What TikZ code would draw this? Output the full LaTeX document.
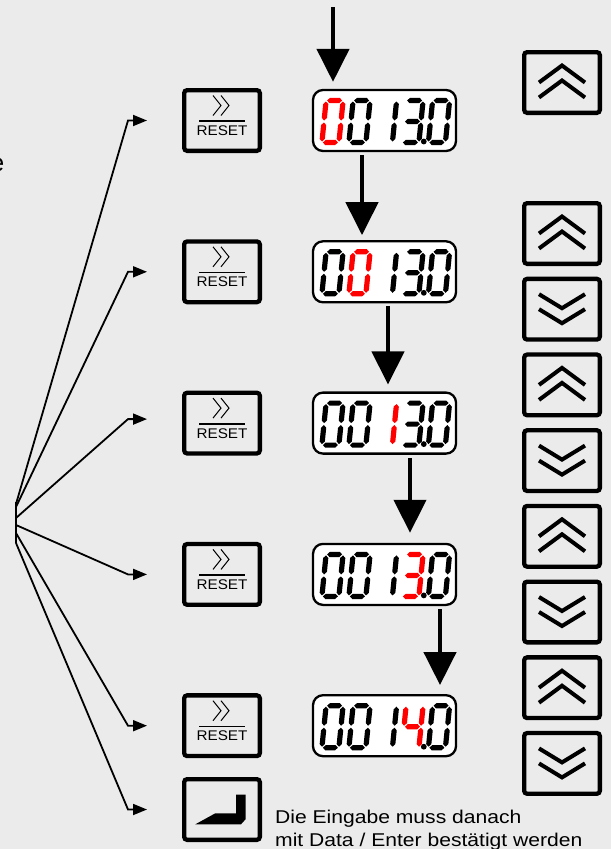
\documentclass[tikz,border=0pt]{standalone}
\usepackage{fontspec}
\setmainfont{Liberation Sans}
\usetikzlibrary{arrows.meta}
\definecolor{panel}{RGB}{235,235,235}
\definecolor{segred}{RGB}{255,0,0}

% one horizontal / vertical segment of a seven-segment digit (local units, y down)
\newcommand\segh[2]{\fill[#2] (-7.5,#1) -- (-4.9,#1-2.6) -- (4.9,#1-2.6) -- (7.5,#1) -- (4.9,#1+2.6) -- (-4.9,#1+2.6) -- cycle;}
\newcommand\segv[4]{\fill[#4] (#1,#2+1) -- (#1+2.6,#2+3.6) -- (#1+2.6,#3-3.6) -- (#1,#3-1) -- (#1-2.6,#3-3.6) -- (#1-2.6,#2+3.6) -- cycle;}
\newcommand\dsga[1]{\segh{-21}{#1}}
\newcommand\dsgb[1]{\segv{8.5}{-21}{0}{#1}}
\newcommand\dsgc[1]{\segv{8.5}{0}{21}{#1}}
\newcommand\dsgd[1]{\segh{21}{#1}}
\newcommand\dsge[1]{\segv{-8.5}{0}{21}{#1}}
\newcommand\dsgf[1]{\segv{-8.5}{-21}{0}{#1}}
\newcommand\dsgg[1]{\segh{0}{#1}}
% slanted digit: centre x, centre y, segment list, colour
\newcommand\sevenseg[4]{\begin{scope}[shift={(#1,#2)},xslant=0.1]\foreach \s in {#3}{\csname dsg\s\endcsname{#4}}\end{scope}}
% a full readout 0 0 1 X . 0 : y, colours of digits 1-4, segments of digit 4, colour of digit 5
\newcommand\readout[7]{%
  \sevenseg{332.5}{#1}{a,b,c,d,e,f}{#2}%
  \sevenseg{359.5}{#1}{a,b,c,d,e,f}{#3}%
  \sevenseg{386}{#1}{b,c}{#4}%
  \sevenseg{412.5}{#1}{#6}{#5}%
  \sevenseg{439}{#1}{a,b,c,d,e,f}{#7}%
  \fill (423.8,#1+20) circle (2.9pt);}

\begin{document}
\begin{tikzpicture}[x=1pt,y=-1pt,
  key/.style={draw, line width=4.3pt, rounded corners=3pt, minimum width=75.7pt, minimum height=60.7pt, inner sep=0pt},
  lcd/.style={draw, fill=white, line width=2.3pt, rounded corners=10pt, minimum width=143pt, minimum height=61pt, inner sep=0pt},
  flow/.style={line width=4.5pt, -{Triangle[length=33pt,width=32pt]}},
  fan/.style={line width=1.8pt, -{Triangle[length=14pt,width=11pt]}},
  hub/.style={line width=1.8pt},
  chev/.style={line width=4pt},
  label/.style={inner sep=0pt},
  resetface/.pic={
    \draw[line width=1pt] (-9,-25) -- (-1,-15) -- (-9,-5);
    \draw[line width=1pt] (-1,-25) -- (7,-15) -- (-1,-5);
    \draw[line width=1.5pt] (-23,0.7) -- (23,0.7);
    \node[label, anchor=base, font=\fontsize{14}{14}\selectfont] (-txt) at (0,15) {\scalebox{1.09}[1]{RESET}};
  },
  upface/.pic={
    \draw[chev] (-23,0) -- (0,-17) -- (23,0);
    \draw[chev] (-23,15) -- (0,-2) -- (23,15);
  },
  downface/.pic={
    \draw[chev] (-23,-15) -- (0,-1) -- (23,-15);
    \draw[chev] (-23,0) -- (0,14) -- (23,0);
  },
  enterface/.pic={
    \fill (-26.7,14.8) -- (-6.7,3.8) -- (14,3.8) -- (14,-14.8) -- (23.5,-14.8) -- (23.5,9.8) -- (19,14.8) -- cycle;
  }
]
\fill[panel] (0,0) rectangle (611,849);
\useasboundingbox (0,0) rectangle (611,849);

% text running in from the left edge
\node[label, anchor=base east, font=\fontsize{25}{25}\selectfont] (cut) at (4.5,171.5) {e};

% RESET keys and the Data/Enter key
\node[key] (r1) at (222,120.5) {};
\node[key] (r2) at (222,271.8) {};
\node[key] (r3) at (222,423.1) {};
\node[key] (r4) at (222,574.4) {};
\node[key] (r5) at (222,725.7) {};
\node[key] (ent) at (222,809.5) {};
\pic (r1f) at (r1.center) {resetface};
\pic (r2f) at (r2.center) {resetface};
\pic (r3f) at (r3.center) {resetface};
\pic (r4f) at (r4.center) {resetface};
\pic (r5f) at (r5.center) {resetface};
\pic (entf) at (ent.center) {enterface};

% displays
\node[lcd] (d1) at (384.5,120.5) {};
\node[lcd] (d2) at (384.5,271.8) {};
\node[lcd] (d3) at (384.5,423.1) {};
\node[lcd] (d4) at (384.5,574.4) {};
\node[lcd] (d5) at (384.5,725.7) {};
\readout{121.5}{segred}{black}{black}{black}{a,b,c,d,g}{black}
\readout{272.8}{black}{segred}{black}{black}{a,b,c,d,g}{black}
\readout{424.1}{black}{black}{segred}{black}{a,b,c,d,g}{black}
\readout{575.4}{black}{black}{black}{segred}{a,b,c,d,g}{black}
\readout{726.7}{black}{black}{black}{segred}{b,c,f,g}{black}

% up / down keys
\node[key] (u0) at (562,82.5) {};
\node[key] (u1) at (562,233.5) {};
\node[key] (n1) at (562,309.2) {};
\node[key] (u2) at (562,384.9) {};
\node[key] (n2) at (562,460.6) {};
\node[key] (u3) at (562,536.3) {};
\node[key] (n3) at (562,612.0) {};
\node[key] (u4) at (562,687.7) {};
\node[key] (n4) at (562,763.4) {};
\pic (u0f) at (u0.center) {upface};
\pic (u1f) at (u1.center) {upface};
\pic (u2f) at (u2.center) {upface};
\pic (u3f) at (u3.center) {upface};
\pic (u4f) at (u4.center) {upface};
\pic (n1f) at (n1.center) {downface};
\pic (n2f) at (n2.center) {downface};
\pic (n3f) at (n3.center) {downface};
\pic (n4f) at (n4.center) {downface};

% flow of the edited digit
\coordinate (feed) at (333,7);
\draw[flow, shorten >=7pt] (feed) -- (feed |- d1.north);
\draw[flow, shorten <=3pt, shorten >=5pt] ([xshift=-22.5pt]d1.south) -- ([xshift=-22.5pt]d2.north);
\draw[flow, shorten <=3pt, shorten >=7pt] ([xshift=3.5pt]d2.south) -- ([xshift=3.5pt]d3.north);
\draw[flow, shorten <=3pt, shorten >=10pt] ([xshift=25.5pt]d3.south) -- ([xshift=25.5pt]d4.north);
\draw[flow, shorten <=3pt, shorten >=9pt] ([xshift=55.5pt]d4.south) -- ([xshift=55.5pt]d5.north);

% fan of key presses
\coordinate (hubt) at (16,502);
\coordinate (hubb) at (16,543);
\coordinate (h1) at (16,504);
\coordinate (h2) at (16,507);
\coordinate (h3) at (16,518);
\coordinate (h4) at (16,525);
\coordinate (h5) at (16,533);
\coordinate (h6) at (16,543);
\draw[hub] (hubt) -- (hubb);
\draw[fan] (h1) -- ([xshift=-54pt]r1.west) -- ([xshift=-35pt]r1.west);
\draw[fan] (h2) -- ([xshift=-54pt]r2.west) -- ([xshift=-35pt]r2.west);
\draw[fan] (h3) -- ([xshift=-54pt,yshift=4pt]r3.west) -- ([xshift=-35pt,yshift=4pt]r3.west);
\draw[fan] (h4) -- ([xshift=-54pt]r4.west) -- ([xshift=-35pt]r4.west);
\draw[fan] (h5) -- ([xshift=-54pt]r5.west) -- ([xshift=-35pt]r5.west);
\draw[fan] (h6) -- ([xshift=-54pt]ent.west) -- ([xshift=-35pt]ent.west);

% note
\node[label, anchor=base west, font=\fontsize{18.5}{22}\selectfont] (note1) at (275,823.3) {\scalebox{1.14}[1]{Die Eingabe muss danach}};
\node[label, anchor=base west, font=\fontsize{18.5}{22}\selectfont] (note2) at (275,846.7) {\scalebox{1.14}[1]{mit Data / Enter bestätigt werden}};
\end{tikzpicture}
\end{document}
